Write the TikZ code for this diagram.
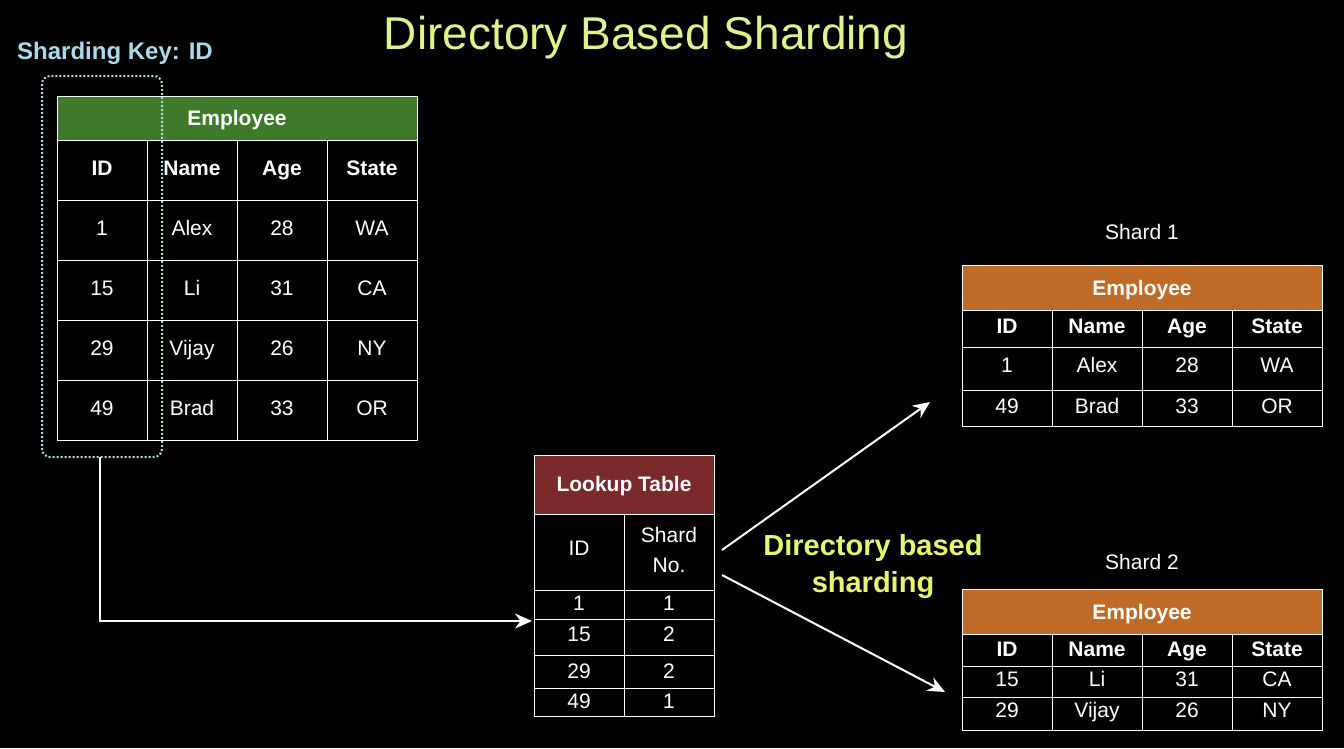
\documentclass[tikz,border=0pt]{standalone}
\usepackage{fontspec}
\setmainfont{Liberation Sans}
\usetikzlibrary{arrows.meta}
\definecolor{ttl}{HTML}{E4F08A}
\definecolor{keyc}{HTML}{A8DCEA}
\definecolor{grn}{HTML}{3F7A2A}
\definecolor{red}{HTML}{7A2A2A}
\definecolor{org}{HTML}{C06A28}
\definecolor{lbl}{HTML}{E8F56E}
\begin{document}
\begin{tikzpicture}[x=1pt,y=-1pt,
  cell/.style={font=\fontsize{21}{24}\selectfont,text=white,text height=15pt,text depth=4pt},
  hcell/.style={font=\fontsize{21}{24}\selectfont\bfseries,text=white,text height=15pt,text depth=4pt},
  grid/.style={draw=white,line width=0.8pt},
  arr/.style={draw=white,line width=2pt,-{Stealth[length=17pt,width=15pt]}}]
\fill[black] (0,0) rectangle (1344,748);
\useasboundingbox (0,0) rectangle (1344,748);
\node[text=ttl,font=\fontsize{46}{50}\selectfont] (title) at (646,38) {Directory Based Sharding};
\node[text=keyc,font=\fontsize{24}{28}\selectfont\bfseries] (key) at (115,53) {Sharding Key: ID};
% main table
\fill[grn] (57,96) rectangle (417,140);
\node[hcell] (eh) at (237,120) {Employee};
\draw[grid] (57,96) rectangle (417,440);
\foreach \y in {140,200,260,320,380} \draw[grid] (57,\y) -- (417,\y);
\foreach \x in {147,237,327} \draw[grid] (\x,140) -- (\x,440);
\foreach \t [count=\i] in {ID,Name,Age,State} \node[hcell] at (12+\i*90,170) {\t};
\foreach \a/\b/\c/\d [count=\r] in {1/Alex/28/WA,15/Li/31/CA,29/Vijay/26/NY,49/Brad/33/OR}{
  \node[cell] at (102,170+\r*60) {\a};
  \node[cell] at (192,170+\r*60) {\b};
  \node[cell] at (282,170+\r*60) {\c};
  \node[cell] at (372,170+\r*60) {\d};}
\draw[keyc,dotted,line width=2pt,rounded corners=8pt] (42,76) rectangle (162,457);
\coordinate (ks) at (100,457);
% lookup
\fill[red] (534,455) rectangle (714,514);
\node[hcell] (lt) at (624,486) {Lookup Table};
\draw[grid] (534,455) rectangle (714,716);
\foreach \y in {514,590,619,655,688} \draw[grid] (534,\y) -- (714,\y);
\draw[grid] (624,514) -- (624,716);
\node[cell] at (579,550) {ID};
\node[font=\fontsize{21}{30}\selectfont,text=white,align=center] at (669,550) {Shard\\No.};
\foreach \a/\b/\y in {1/1/605,15/2/636,29/2/673,49/1/703}{
  \node[cell] at (579,\y) {\a}; \node[cell] at (669,\y) {\b};}
\coordinate (lin) at (532,621);
\draw[arr] (ks) |- (lin);
% shards
\newcommand\shard[4]{%
  \node[cell] at (1142,#1) {#2};
  \fill[org] (962,#3) rectangle (1322,#3+45);
  \node[hcell] at (1142,#3+25) {Employee};
  \draw[grid] (962,#3) rectangle (1322,#4);
  \draw[grid] (962,#3+45) -- (1322,#3+45);
  \foreach \x in {1052,1142,1232} \draw[grid] (\x,#3+45) -- (\x,#4);
}
\shard{234}{Shard 1}{265}{426}
\foreach \y in {347,390} \draw[grid] (962,\y) -- (1322,\y);
\foreach \t [count=\i] in {ID,Name,Age,State} \node[hcell] at (917+\i*90,328) {\t};
\foreach \a/\b/\c/\d/\y in {1/Alex/28/WA/367,49/Brad/33/OR/408}{
  \node[cell] at (1007,\y) {\a}; \node[cell] at (1097,\y) {\b};
  \node[cell] at (1187,\y) {\c}; \node[cell] at (1277,\y) {\d};}
\shard{564}{Shard 2}{589}{730}
\foreach \y in {666,697} \draw[grid] (962,\y) -- (1322,\y);
\foreach \t [count=\i] in {ID,Name,Age,State} \node[hcell] at (917+\i*90,651) {\t};
\foreach \a/\b/\c/\d/\y in {15/Li/31/CA/681,29/Vijay/26/NY/712}{
  \node[cell] at (1007,\y) {\a}; \node[cell] at (1097,\y) {\b};
  \node[cell] at (1187,\y) {\c}; \node[cell] at (1277,\y) {\d};}
\coordinate (a1s) at (722,550); \coordinate (a1e) at (930,402);
\coordinate (a2s) at (722,575); \coordinate (a2e) at (945,692);
\draw[arr] (a1s) -- (a1e);
\draw[arr] (a2s) -- (a2e);
\node[text=lbl,font=\fontsize{29}{37}\selectfont\bfseries,align=center] (dl) at (873,567) {Directory based\\sharding};
\end{tikzpicture}
\end{document}
